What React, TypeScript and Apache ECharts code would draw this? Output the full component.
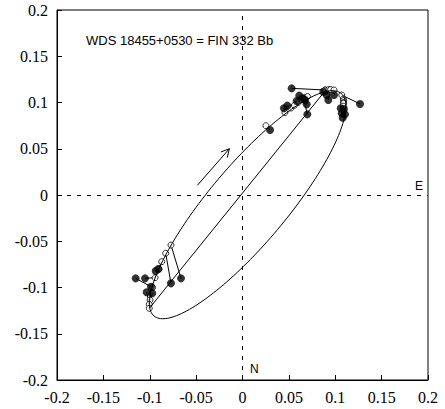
import React, { useEffect, useRef } from "react";
import * as echarts from "echarts";

// Axis range
const AXIS_MIN = -0.2;
const AXIS_MAX = 0.2;
const AXIS_STEP = 0.05;

const titleText = "WDS 18455+0530 = FIN 332 Bb";

// Observed positions (filled circles)
const obsX = [
  0.053, 0.1267, 0.0297, 0.0447, 0.0483, 0.0612, 0.0649, 0.0584, 0.0674, 0.0692,
  0.0699, 0.0871, 0.0908, 0.0925, 0.0987, 0.1059, 0.1094, 0.107, 0.1105, 0.108,
  -0.1152, -0.1051, -0.0936, -0.0908, -0.0771, -0.0663, -0.0987, -0.1033, -0.0973,
];
const obsY = [
  0.1153, 0.0984, 0.0703, 0.0937, 0.0966, 0.1074, 0.1045, 0.1016, 0.1027, 0.098,
  0.0872, 0.1117, 0.1081, 0.1027, 0.1081, 0.0937, 0.093, 0.0883, 0.0872, 0.0836,
  -0.0901, -0.0901, -0.0822, -0.08, -0.0955, -0.0901, -0.0991, -0.1052, -0.1063,
];
// Computed positions on the orbit (open circles), one per observation
const calcX = [
  0.089, 0.107, 0.0253, 0.0458, 0.0523, 0.06, 0.064, 0.056, 0.0674, 0.07,
  0.066, 0.089, 0.093, 0.095, 0.0987, 0.1087, 0.109, 0.109, 0.109, 0.1085,
  -0.097, -0.0943, -0.09, -0.0871, -0.0828, -0.0771, -0.0997, -0.1005, -0.1005,
];
const calcY = [
  0.1135, 0.1081, 0.0749, 0.0892, 0.094, 0.1, 0.103, 0.097, 0.1052, 0.1065,
  0.104, 0.1135, 0.114, 0.114, 0.1135, 0.1038, 0.102, 0.1, 0.099, 0.096,
  -0.1, -0.0894, -0.08, -0.0721, -0.063, -0.0541, -0.1135, -0.1182, -0.1225,
];

// Line of nodes
const nodeLineX = [-0.1005, 0.089];
const nodeLineY = [-0.1225, 0.1125];

// Apparent orbit (ellipse)
const orbitCenterX = 0.0055;
const orbitCenterY = -0.0105;
const orbitSemiMajor = 0.157;
const orbitSemiMinor = 0.042;
const orbitTiltDeg = 50;

// Direction-of-motion arrow
const arrowFrom = [-0.0487, 0.0104];
const arrowTo = [-0.0142, 0.05];

const SERIF = "Times New Roman";
const SANS = "Liberation Sans, Arial, sans-serif";

export default function App() {
  const ref = useRef<HTMLDivElement>(null);

  useEffect(() => {
    if (!ref.current) return;
    const chart = echarts.init(ref.current, undefined, { renderer: "svg" });

    const th = (orbitTiltDeg * Math.PI) / 180;
    const orbitPts: number[][] = [];
    for (let i = 0; i <= 360; i += 2) {
      const t = (i * Math.PI) / 180;
      const ca = orbitSemiMajor * Math.cos(t);
      const sb = orbitSemiMinor * Math.sin(t);
      orbitPts.push([
        orbitCenterX + ca * Math.cos(th) - sb * Math.sin(th),
        orbitCenterY + ca * Math.sin(th) + sb * Math.cos(th),
      ]);
    }

    const ocLines = obsX.map((x, i) => ({
      coords: [
        [x, obsY[i]],
        [calcX[i], calcY[i]],
      ],
    }));

    const axisLabel = {
      color: "#000",
      fontFamily: SERIF,
      fontSize: 16,
      showMinLabel: true,
      showMaxLabel: true,
      margin: 9,
    };

    const axisCommon = {
      type: "value" as const,
      min: AXIS_MIN,
      max: AXIS_MAX,
      interval: AXIS_STEP,
      axisLine: { show: true, onZero: false, lineStyle: { color: "#000", width: 1 } },
      axisTick: { show: true, inside: true, length: 5, lineStyle: { color: "#000", width: 1 } },
      axisLabel,
      splitLine: { show: false },
    };

    chart.setOption({
      animation: false,
      grid: {
        left: 57,
        top: 10,
        width: 371,
        height: 370,
        show: true,
        borderColor: "#000",
        borderWidth: 1,
      },
      xAxis: axisCommon,
      yAxis: axisCommon,
      graphic: [
        {
          type: "text",
          style: {
            text: titleText,
            x: 86,
            y: 40.5,
            verticalAlign: "middle",
            fontSize: 13,
            fontFamily: SANS,
            fill: "#000",
          },
        },
        {
          type: "text",
          style: {
            text: "E",
            x: 415,
            y: 186,
            verticalAlign: "middle",
            fontSize: 12,
            fontFamily: SANS,
            fill: "#000",
          },
        },
        {
          type: "text",
          style: {
            text: "N",
            x: 250,
            y: 369,
            verticalAlign: "middle",
            fontSize: 12,
            fontFamily: SANS,
            fill: "#000",
          },
        },
      ],
      series: [
        {
          type: "line",
          data: orbitPts,
          showSymbol: false,
          lineStyle: { color: "#000", width: 1 },
          silent: true,
          markLine: {
            silent: true,
            symbol: ["none", "none"],
            label: { show: false },
            lineStyle: { color: "#000", width: 1, type: [4, 6] },
            data: [{ xAxis: 0 }, { yAxis: 0 }],
          },
        },
        {
          type: "line",
          data: nodeLineX.map((x, i) => [x, nodeLineY[i]]),
          showSymbol: false,
          lineStyle: { color: "#000", width: 1 },
          silent: true,
        },
        {
          type: "lines",
          coordinateSystem: "cartesian2d",
          data: ocLines,
          lineStyle: { color: "#000", width: 1, opacity: 1 },
          silent: true,
        },
        {
          type: "scatter",
          data: calcX.map((x, i) => [x, calcY[i]]),
          symbol: "circle",
          symbolSize: 6,
          itemStyle: { color: "#fff", borderColor: "#000", borderWidth: 1 },
          silent: true,
        },
        {
          type: "scatter",
          data: obsX.map((x, i) => [x, obsY[i]]),
          symbol: "circle",
          symbolSize: 8,
          itemStyle: { color: "#000" },
          silent: true,
        },
        {
          type: "custom",
          silent: true,
          data: [[arrowFrom[0], arrowFrom[1], arrowTo[0], arrowTo[1]]],
          renderItem: (params: any, api: any) => {
            const p1 = api.coord([api.value(0), api.value(1)]);
            const p2 = api.coord([api.value(2), api.value(3)]);
            const ang = Math.atan2(p2[1] - p1[1], p2[0] - p1[0]);
            const len = 9;
            const spread = (28 * Math.PI) / 180;
            const w1 = [p2[0] - len * Math.cos(ang - spread), p2[1] - len * Math.sin(ang - spread)];
            const w2 = [p2[0] - len * Math.cos(ang + spread), p2[1] - len * Math.sin(ang + spread)];
            return {
              type: "group",
              children: [
                {
                  type: "line",
                  shape: { x1: p1[0], y1: p1[1], x2: p2[0], y2: p2[1] },
                  style: { stroke: "#000", lineWidth: 1 },
                },
                {
                  type: "polyline",
                  shape: { points: [w1, p2, w2] },
                  style: { stroke: "#000", lineWidth: 1, fill: "none" },
                },
              ],
            };
          },
        },
      ],
    });

    return () => chart.dispose();
  }, []);

  return (
    <div
      ref={ref}
      style={{ position: "absolute", left: 0, top: 0, width: 445, height: 409 }}
    />
  );
}
